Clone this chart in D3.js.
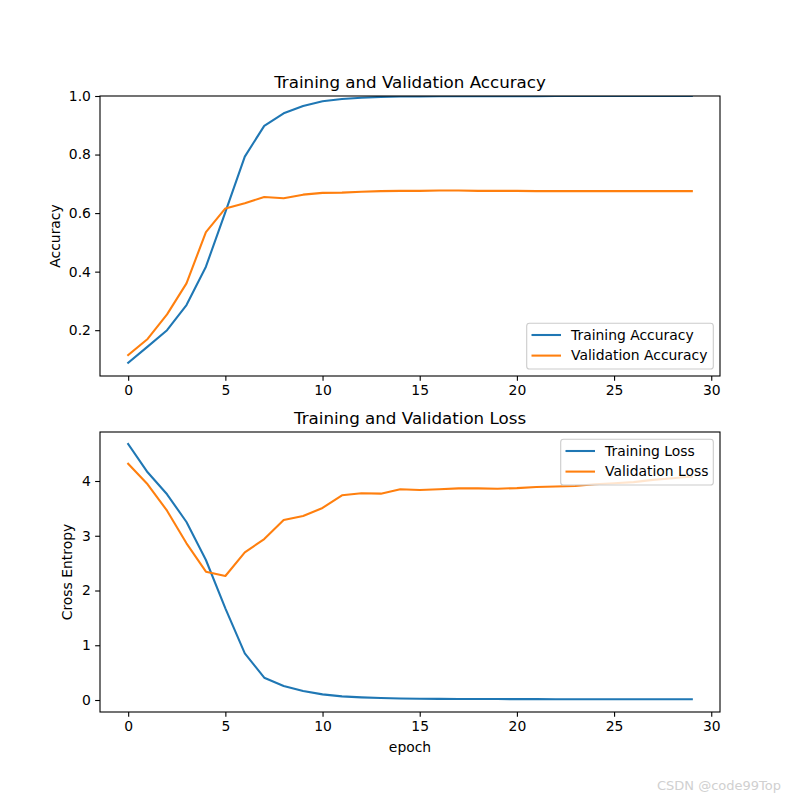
<!DOCTYPE html>
<html><head><meta charset="utf-8">
<script src="https://cdn.jsdelivr.net/npm/d3@7"></script>
<style>body{margin:0;background:#fff}text{font-family:"DejaVu Sans",sans-serif;fill:#000}</style>
</head><body><svg id="c" width="800" height="800"></svg>
<script>
const epochs = d3.range(30);
const trainAcc = [0.089,0.144,0.200,0.286,0.417,0.603,0.793,0.898,0.941,0.966,0.982,0.990,0.994,0.997,0.998,0.9985,0.999,0.9993,0.9995,0.9996,0.9997,0.9997,0.9998,0.9998,0.9998,0.9999,0.9999,0.9999,0.9999,0.9999];
const valAcc = [0.115,0.170,0.254,0.360,0.535,0.616,0.634,0.655,0.651,0.663,0.669,0.670,0.673,0.675,0.676,0.676,0.677,0.677,0.676,0.676,0.676,0.675,0.675,0.675,0.675,0.675,0.675,0.675,0.675,0.675];
const trainLoss = [4.676,4.159,3.757,3.251,2.557,1.674,0.852,0.408,0.256,0.164,0.103,0.067,0.048,0.036,0.028,0.024,0.021,0.019,0.018,0.017,0.016,0.0155,0.015,0.0148,0.0145,0.0142,0.014,0.0138,0.0136,0.0135];
const valLoss = [4.316,3.94,3.458,2.862,2.344,2.265,2.697,2.94,3.288,3.361,3.507,3.739,3.775,3.769,3.848,3.836,3.848,3.866,3.866,3.86,3.87,3.89,3.90,3.909,3.94,3.96,3.98,4.02,4.05,4.08];
const xTicks = [0,5,10,15,20,25,30];
const accTicks = [0.2,0.4,0.6,0.8,1.0];
const lossTicks = [0,1,2,3,4];

const svg = d3.select("#c");
const L=100,R=720,W=R-L,H=280;
const blue="#1f77b4", orange="#ff7f0e";
const x = d3.scaleLinear().domain([-1.45,30.45]).range([L,R]);

function panel(top, series, yDomain, yTicks, fmt, title, ylabel, ylabelX, legendPos, xlabel){
  const y = d3.scaleLinear().domain(yDomain).range([top+H, top]);
  const g = svg.append("g");
  const cid = "clip"+top;
  g.append("clipPath").attr("id",cid).append("rect").attr("x",L).attr("y",top).attr("width",W).attr("height",H);
  const line = d3.line().x((d,i)=>x(epochs[i])).y(d=>y(d));
  series.forEach(s=>{
    g.append("path").datum(s.values).attr("d",line).attr("fill","none").attr("stroke",s.color)
     .attr("stroke-width",2.08).attr("stroke-linejoin","round").attr("stroke-linecap","square").attr("clip-path",`url(#${cid})`);
  });
  const xa = d3.axisBottom(x).tickValues(xTicks).tickSize(4.86).tickPadding(4.2).tickFormat(d3.format("d"));
  const ya = d3.axisLeft(y).tickValues(yTicks).tickSize(4.86).tickPadding(4.2).tickFormat(fmt);
  const gx = g.append("g").attr("transform",`translate(0,${top+H})`).call(xa);
  const gy = g.append("g").attr("transform",`translate(${L},0)`).call(ya);
  [gx,gy].forEach(a=>{a.select(".domain").remove();a.selectAll("line").attr("stroke","#000").attr("stroke-width",1.1);
    a.selectAll("text").attr("font-size","13.9px").attr("font-family","DejaVu Sans").attr("fill","#000");});
  g.append("rect").attr("x",L).attr("y",top).attr("width",W).attr("height",H).attr("fill","none").attr("stroke","#000").attr("stroke-width",1.1);
  g.append("text").attr("x",(L+R)/2).attr("y",top-8).attr("text-anchor","middle").attr("font-size","16.7px").text(title);
  g.append("text").attr("transform",`translate(${ylabelX},${top+H/2}) rotate(-90)`).attr("text-anchor","middle").attr("font-size","13.9px").text(ylabel);
  if(xlabel) g.append("text").attr("x",(L+R)/2).attr("y",top+H+40).attr("text-anchor","middle").attr("font-size","13.9px").text(xlabel);
  // legend
  const lg = g.append("g");
  lg.append("rect").attr("x",legendPos.x).attr("y",legendPos.y).attr("width",legendPos.w).attr("height",45.7)
    .attr("rx",2.8).attr("fill","#fff").attr("fill-opacity",0.8).attr("stroke","#cccccc").attr("stroke-width",1.1);
  series.forEach((s,i)=>{
    const cy = legendPos.y+11.7+i*20.6;
    lg.append("line").attr("x1",legendPos.x+4.8).attr("x2",legendPos.x+34.3).attr("y1",cy).attr("y2",cy).attr("stroke",s.color).attr("stroke-width",2.08);
    lg.append("text").attr("x",legendPos.x+44.3).attr("y",cy).attr("dy","0.35em").attr("font-size","13.9px").text(s.name);
  });
}

panel(96, [{name:"Training Accuracy",values:trainAcc,color:blue},{name:"Validation Accuracy",values:valAcc,color:orange}],
  [0.0435,1.0], accTicks, d3.format(".1f"), "Training and Validation Accuracy", "Accuracy", 60, {x:526.7,y:323.3,w:186.6}, null);
panel(432, [{name:"Training Loss",values:trainLoss,color:blue},{name:"Validation Loss",values:valLoss,color:orange}],
  [-0.219,4.895], lossTicks, d3.format("d"), "Training and Validation Loss", "Cross Entropy", 72, {x:560.7,y:439.3,w:152.6}, "epoch");

svg.append("text").attr("x",781).attr("y",790).attr("text-anchor","end").attr("font-size","13px").attr("font-family","Noto Sans").style("fill","#d0d0d0").text("CSDN @code99Top");
</script></body></html>
